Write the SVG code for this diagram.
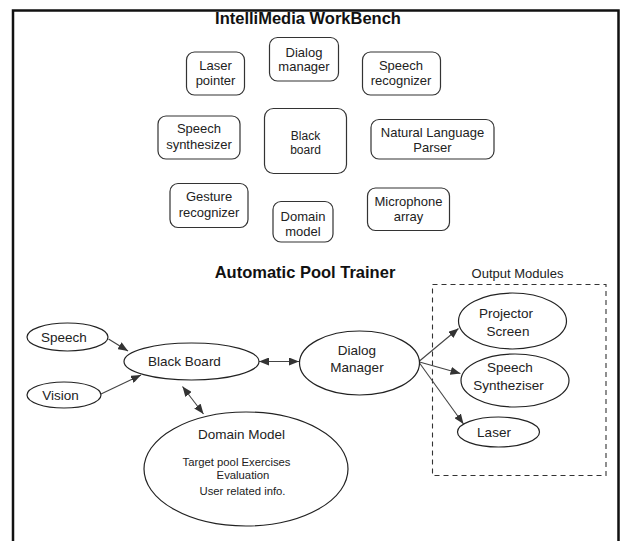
<svg xmlns="http://www.w3.org/2000/svg" width="621" height="541" viewBox="0 0 621 541">
<defs>
<style>
.box{fill:#fff;stroke:#333;stroke-width:1.2}
.ell{fill:#fff;stroke:#222;stroke-width:1.2}
.t{font-family:"Liberation Sans",Arial,sans-serif;font-size:13px;fill:#222;text-anchor:middle}
.tbb{font-family:"Liberation Sans",Arial,sans-serif;font-size:12px;fill:#222;text-anchor:middle}
.tb{font-family:"Liberation Sans",Arial,sans-serif;font-size:13.5px;fill:#222;text-anchor:middle}
.ts{font-family:"Liberation Sans",Arial,sans-serif;font-size:11.3px;fill:#222;text-anchor:middle}
.h{font-family:"Liberation Sans",Arial,sans-serif;font-size:16.5px;font-weight:bold;fill:#111;text-anchor:middle}
.c{stroke:#444;stroke-width:1.1;fill:none}
</style>
<marker id="ah" viewBox="0 0 10 8" refX="10" refY="4" markerWidth="10" markerHeight="8" markerUnits="userSpaceOnUse" orient="auto-start-reverse">
<path d="M0,0 L10,4 L0,8 Z" fill="#333"/>
</marker>
</defs>
<rect width="621" height="541" fill="#fff"/>
<path d="M13,541 V10.5 H618.5 V541" fill="none" stroke="#111" stroke-width="2.5"/>

<text class="h" x="308" y="24">IntelliMedia WorkBench</text>

<g id="laser-pointer"><rect class="box" x="186.5" y="52" width="58" height="43" rx="8"/><text class="t" x="215.5" y="69.5">Laser</text><text class="t" x="215.5" y="85">pointer</text></g>
<g id="dialog-manager"><rect class="box" x="269.5" y="37.5" width="69" height="43.5" rx="8"/><text class="t" x="304" y="56.5">Dialog</text><text class="t" x="304" y="70.5">manager</text></g>
<g id="speech-recognizer"><rect class="box" x="362.5" y="52" width="78" height="43" rx="8"/><text class="t" x="401" y="69.5">Speech</text><text class="t" x="401" y="85">recognizer</text></g>
<g id="speech-synthesizer"><rect class="box" x="158" y="116" width="82" height="43" rx="8"/><text class="t" x="199" y="132.5">Speech</text><text class="t" x="199" y="148.5">synthesizer</text></g>
<g id="black-board"><rect class="box" x="264.5" y="108.5" width="82" height="65" rx="9"/><text class="tbb" x="305.5" y="139.5">Black</text><text class="tbb" x="305.5" y="153.5">board</text></g>
<g id="natural-language-parser"><rect class="box" x="371" y="119.5" width="123" height="39.5" rx="8"/><text class="t" x="432.5" y="137">Natural Language</text><text class="t" x="432.5" y="152">Parser</text></g>
<g id="gesture-recognizer"><rect class="box" x="170" y="183.5" width="78" height="44" rx="8"/><text class="t" x="209" y="201">Gesture</text><text class="t" x="209" y="216.5">recognizer</text></g>
<g id="domain-model"><rect class="box" x="273" y="201.5" width="60" height="40.5" rx="8"/><text class="t" x="303" y="221">Domain</text><text class="t" x="303" y="235.5">model</text></g>
<g id="microphone-array"><rect class="box" x="367.5" y="188" width="82" height="42.5" rx="8"/><text class="t" x="408.5" y="205.5">Microphone</text><text class="t" x="408.5" y="220.5">array</text></g>

<text class="h" x="305" y="278">Automatic Pool Trainer</text>
<text class="t" x="517.5" y="277.5">Output Modules</text>
<rect id="output-modules" x="432.5" y="284.5" width="173.5" height="191" fill="none" stroke="#333" stroke-width="1.1" stroke-dasharray="5,4"/>

<g id="connectors">
<line class="c" x1="108.5" y1="339" x2="128" y2="351" marker-end="url(#ah)"/>
<line class="c" x1="101" y1="394" x2="141" y2="375" marker-end="url(#ah)"/>
<line class="c" x1="259" y1="361.5" x2="299" y2="361.5" marker-start="url(#ah)" marker-end="url(#ah)"/>
<line class="c" x1="182.5" y1="386.5" x2="203.5" y2="414" marker-start="url(#ah)" marker-end="url(#ah)"/>
<line class="c" x1="419.5" y1="361" x2="458.5" y2="328.5" marker-end="url(#ah)"/>
<line class="c" x1="419.5" y1="362" x2="460.5" y2="373.5" marker-end="url(#ah)"/>
<line class="c" x1="419.5" y1="363" x2="463.5" y2="424" marker-end="url(#ah)"/>
</g>

<g id="apt-speech"><ellipse class="ell" cx="67.5" cy="337" rx="40.5" ry="14"/><text class="tb" x="64" y="341.5">Speech</text></g>
<g id="apt-vision"><ellipse class="ell" cx="64" cy="395" rx="37" ry="13"/><text class="tb" x="60.5" y="400">Vision</text></g>
<g id="apt-black-board"><ellipse class="ell" cx="191.5" cy="361.5" rx="67.5" ry="18.5"/><text class="tb" x="184.5" y="366">Black Board</text></g>
<g id="apt-dialog-manager"><ellipse class="ell" cx="359.5" cy="363" rx="60" ry="32"/><text class="tb" x="357" y="355">Dialog</text><text class="tb" x="357" y="372">Manager</text></g>
<g id="apt-domain-model"><ellipse class="ell" cx="246" cy="469" rx="102" ry="57"/><text class="tb" x="241.5" y="438.5">Domain Model</text><text class="ts" x="236.5" y="465.5">Target pool Exercises</text><text class="ts" x="243" y="479">Evaluation</text><text class="ts" x="242.5" y="495">User related info.</text></g>
<g id="apt-projector-screen"><ellipse class="ell" cx="512.5" cy="321" rx="54" ry="28"/><text class="tb" x="506" y="317.5">Projector</text><text class="tb" x="508" y="336">Screen</text></g>
<g id="apt-speech-synthesiser"><ellipse class="ell" cx="515" cy="380.5" rx="54" ry="26.5"/><text class="tb" x="510" y="371.5">Speech</text><text class="tb" x="508.5" y="389.5">Syntheziser</text></g>
<g id="apt-laser"><ellipse class="ell" cx="498.5" cy="432" rx="41" ry="15"/><text class="tb" x="494" y="436.5">Laser</text></g>
</svg>
